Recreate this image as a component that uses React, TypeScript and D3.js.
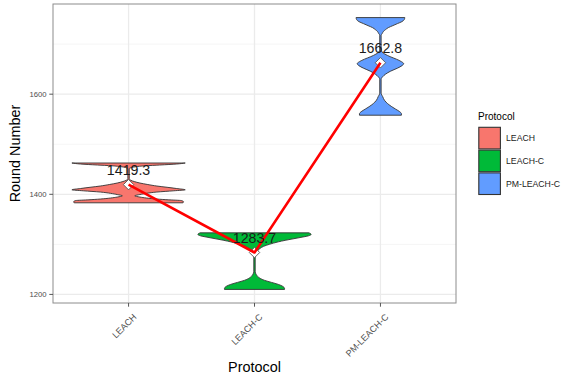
import React from 'react';
import * as d3 from 'd3';

const protocols = ['LEACH', 'LEACH-C', 'PM-LEACH-C'];
const fillColors = ['#F8766D', '#00BA38', '#619CFF'];
const means = [1419.3, 1283.7, 1662.8];
const yMajorTicks = [1200, 1400, 1600];
const yMinorTicks = [1300, 1500, 1700];

// violin outlines: [Round Number, relative half-width]
const leachProfile: [number, number][] = [
  [1383, 0.96], [1385, 0.97], [1387.5, 0.93], [1389, 0.7], [1390.5, 0.5], [1392.5, 0.32],
  [1394.5, 0.2], [1397, 0.11], [1399.5, 0.2], [1402, 0.32], [1404.5, 0.5], [1407, 0.8],
  [1409, 1.0], [1411.5, 0.85], [1414, 0.68], [1416.5, 0.5], [1419.5, 0.34], [1422.5, 0.2],
  [1425.5, 0.1], [1428, 0.04], [1431, 0.012], [1451, 0.012], [1453, 0.04], [1455, 0.12],
  [1457, 0.3], [1458.5, 0.55], [1460.5, 0.85], [1462.5, 1.0],
];
const leachCProfile: [number, number][] = [
  [1210, 0.53], [1212, 0.53], [1216, 0.5], [1220, 0.42], [1224, 0.3], [1228, 0.18],
  [1232, 0.1], [1236, 0.055], [1240, 0.03], [1245, 0.012], [1280, 0.012], [1284, 0.03],
  [1288, 0.06], [1292, 0.1], [1296, 0.16], [1300, 0.26], [1305, 0.42], [1308, 0.54],
  [1311, 0.68], [1314, 0.82], [1317, 0.95], [1320, 1.0], [1323, 0.96],
];
const pmLeachCProfile: [number, number][] = [
  [1558, 0.37], [1561, 0.37], [1565, 0.34], [1570, 0.27], [1575, 0.2], [1579, 0.15],
  [1584, 0.1], [1588, 0.07], [1595, 0.04], [1602, 0.012], [1630, 0.012], [1635, 0.04],
  [1640, 0.09], [1646, 0.18], [1652, 0.3], [1657, 0.38], [1661, 0.41], [1665, 0.37],
  [1670, 0.28], [1675, 0.17], [1680, 0.08], [1684, 0.03], [1690, 0.012], [1718, 0.012],
  [1721, 0.03], [1725, 0.05], [1729, 0.09], [1733, 0.14], [1737, 0.22], [1741, 0.3],
  [1745, 0.38], [1749, 0.42], [1753, 0.43],
];
const profiles = [leachProfile, leachCProfile, pmLeachCProfile];

const W = 564;
const H = 380;
const panel = { left: 53, right: 456, top: 4, bottom: 303 };
const FONT = "'Liberation Sans', Arial, Helvetica, sans-serif";

export default function App() {
  const allVals = profiles.flat().map((d) => d[0]);
  const [vmin, vmax] = d3.extent(allVals) as [number, number];
  const pad = (vmax - vmin) * 0.05;
  const y = d3.scaleLinear().domain([vmin - pad, vmax + pad]).range([panel.bottom, panel.top]);
  const x = d3.scalePoint<string>().domain(protocols).range([panel.left, panel.right]).padding(0.6);
  const maxHW = x.step() * 0.45;

  const line = d3
    .line<number>()
    .x((_, i) => x(protocols[i]) as number)
    .y((d) => y(d));

  return (
    <svg width={W} height={H} style={{ position: 'absolute', left: 0, top: 0, background: '#fff' }} fontFamily={FONT}>
      <rect x={0} y={0} width={W} height={H} fill="#fff" />
      {/* grid */}
      {yMinorTicks.map((t) => (
        <line key={'mn' + t} x1={panel.left} x2={panel.right} y1={y(t)} y2={y(t)} stroke="#f2f2f2" strokeWidth={0.8} />
      ))}
      {yMajorTicks.map((t) => (
        <line key={'mj' + t} x1={panel.left} x2={panel.right} y1={y(t)} y2={y(t)} stroke="#ebebeb" strokeWidth={1.3} />
      ))}
      {protocols.map((p) => (
        <line key={'vx' + p} x1={x(p)} x2={x(p)} y1={panel.top} y2={panel.bottom} stroke="#ebebeb" strokeWidth={1.3} />
      ))}
      {/* violins */}
      {protocols.map((p, i) => {
        const cx = x(p) as number;
        const area = d3
          .area<[number, number]>()
          .y((d) => y(d[0]))
          .x0((d) => cx - d[1] * maxHW)
          .x1((d) => cx + d[1] * maxHW)
          .curve(d3.curveMonotoneY);
        return (
          <path key={'v' + p} d={area(profiles[i]) || ''} fill={fillColors[i]} stroke="#333" strokeWidth={0.9} />
        );
      })}
      {/* mean points */}
      {protocols.map((p, i) => {
        const cx = x(p) as number;
        const cy = y(means[i]);
        const r = 5.2;
        return (
          <path
            key={'m' + p}
            d={`M${cx},${cy - r}L${cx + r},${cy}L${cx},${cy + r}L${cx - r},${cy}Z`}
            fill="#fff"
            stroke="#555"
            strokeWidth={0.9}
          />
        );
      })}
      {/* mean line */}
      <path d={line(means) || ''} fill="none" stroke="#ff0000" strokeWidth={2.6} strokeLinejoin="round" />
      {/* mean labels */}
      {protocols.map((p, i) => (
        <text key={'t' + p} x={x(p)} y={y(means[i]) - 10} textAnchor="middle" fontSize={14.2} fill="#1a1a1a">
          {means[i].toFixed(1)}
        </text>
      ))}
      {/* panel border */}
      <rect
        x={panel.left}
        y={panel.top}
        width={panel.right - panel.left}
        height={panel.bottom - panel.top}
        fill="none"
        stroke="#8c8c8c"
        strokeWidth={1}
      />
      {/* y axis */}
      {yMajorTicks.map((t) => (
        <g key={'yt' + t}>
          <line x1={panel.left - 3.7} x2={panel.left} y1={y(t)} y2={y(t)} stroke="#555" strokeWidth={1} />
          <text x={panel.left - 6.5} y={y(t)} dy="0.35em" textAnchor="end" fontSize={7.7} fill="#4d4d4d">
            {t}
          </text>
        </g>
      ))}
      {/* x axis */}
      {protocols.map((p) => (
        <g key={'xt' + p}>
          <line x1={x(p)} x2={x(p)} y1={panel.bottom} y2={panel.bottom + 3.7} stroke="#555" strokeWidth={1} />
          <text
            transform={`translate(${(x(p) as number) + 4},${panel.bottom + 10}) rotate(-45)`}
            textAnchor="end"
            dy="0.72em"
            fontSize={9}
            fill="#4d4d4d"
          >
            {p}
          </text>
        </g>
      ))}
      {/* axis titles */}
      <text x={(panel.left + panel.right) / 2} y={371.5} textAnchor="middle" fontSize={14.4} fill="#000">
        Protocol
      </text>
      <text transform={`translate(20,${(panel.top + panel.bottom) / 2}) rotate(-90)`} textAnchor="middle" fontSize={14.4} fill="#000">
        Round Number
      </text>
      {/* legend */}
      <text x={478} y={120} fontSize={10} fill="#000">
        Protocol
      </text>
      {protocols.map((p, i) => (
        <g key={'lg' + p}>
          <rect x={478.8} y={127.3 + i * 22.8} width={21.6} height={21.6} fill={fillColors[i]} stroke="#333" strokeWidth={1.1} />
          <text x={506} y={127.3 + i * 22.8 + 10.8} dy="0.35em" fontSize={8.7} fill="#1a1a1a">
            {p}
          </text>
        </g>
      ))}
    </svg>
  );
}
